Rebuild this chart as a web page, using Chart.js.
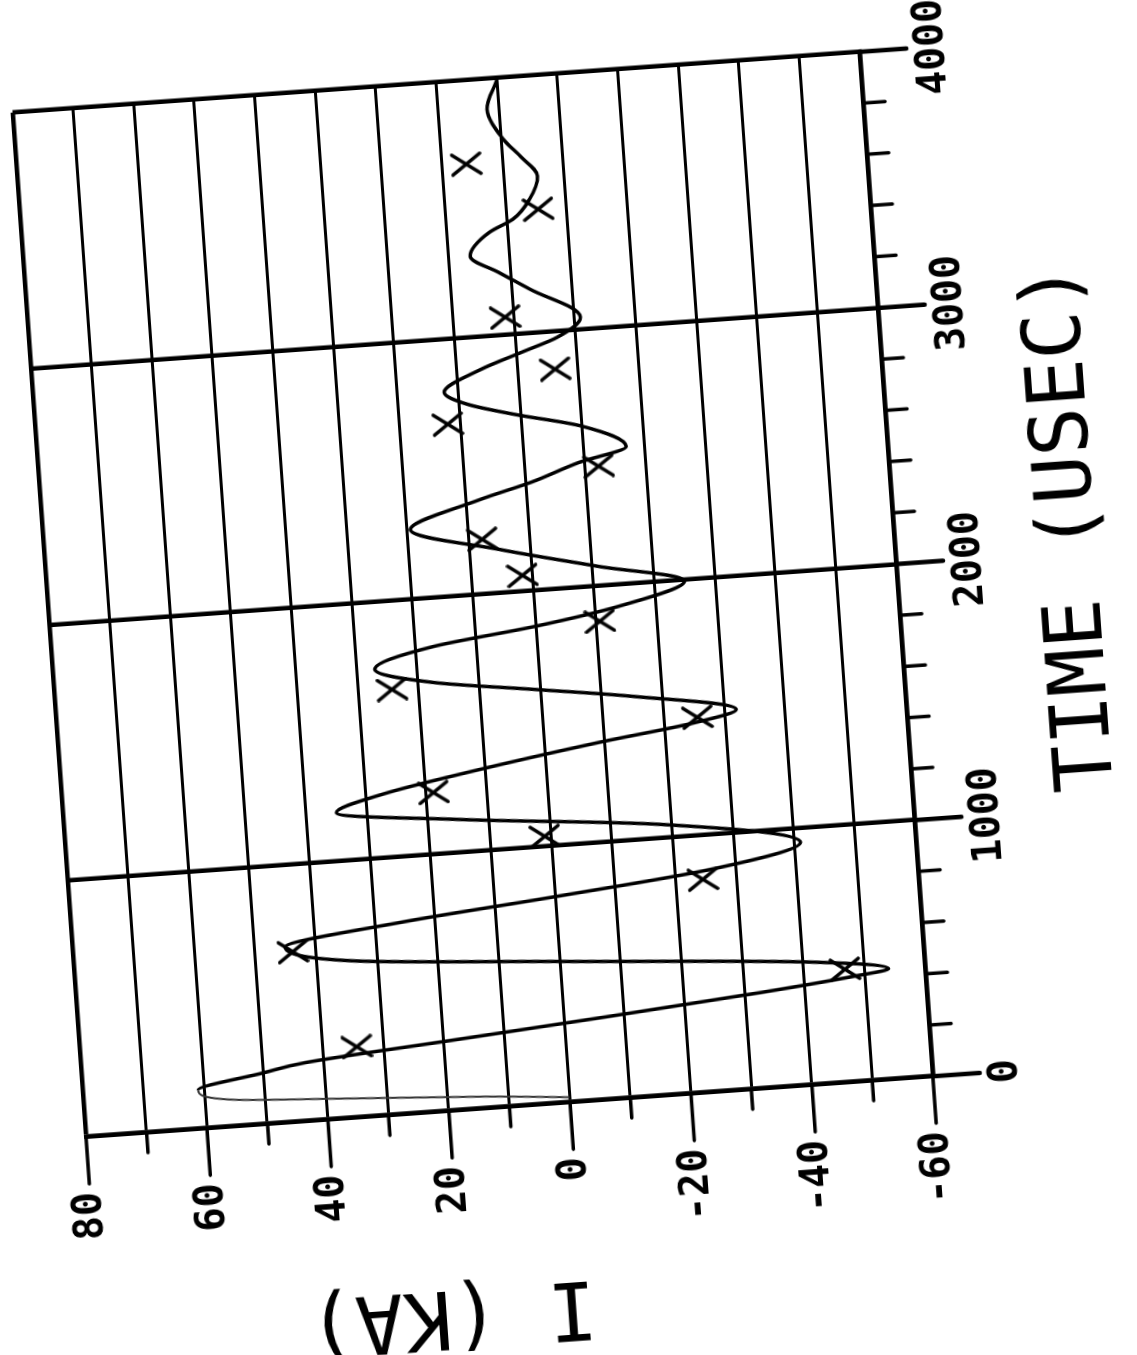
<!DOCTYPE html>
<html>
<head>
<meta charset="utf-8">
<title>I (KA) vs TIME (USEC)</title>
<script src="https://cdn.jsdelivr.net/npm/chart.js@4/dist/chart.umd.min.js"></script>
<style>
  html, body { margin: 0; padding: 0; background: #fff; }
  body { width: 1137px; height: 1355px; overflow: hidden; position: relative; }
  #plot { position: absolute; left: 0; top: 0; }
  #plot canvas { display: block; }
</style>
</head>
<body>
<div id="plot"><canvas id="chart" width="1326" height="1106"></canvas></div>
<script>
// Measured discharge current: the fitted trace and the sampled points (x marks)
const curveTime = [20, 46, 80, 103, 151, 200, 228, 275, 322, 374, 410, 430, 476, 550, 610,
    682, 748, 803, 866, 946, 1055, 1130, 1190, 1250, 1310, 1390, 1440, 1480, 1560, 1614,
    1669, 1736, 1809, 1859, 1914, 1993, 2074, 2167, 2269, 2367, 2420, 2483, 2532, 2623, 2688,
    2740, 2793, 2872, 2928, 2976, 3047, 3170, 3245, 3314, 3402, 3446, 3519, 3607, 3689, 3760,
    3881, 3990];
const curveCurrent = [0, 14, 39, 55, 61, 50, 43, 18, -7, -33, -48, -54, -42, 0, 34,
    45, 25, 0, -26, -41, -18, 15, 35, 27, 13, -9, -25, -32, -15, 1,
    17.5, 27, 17, 0, -14, -25, -11, 5, 19.5, 7.6, -1, -9, -17, -10, 1,
    8.6, 12.3, 6, -1, -7, -11, -3, 2, 6.4, 3, -1, -4, -5.6, -3, -0.4,
    1.9, 0];

const markerTime = [275, 440, 662, 829, 1040, 1241, 1460, 1653, 1860, 2060, 2211, 2463,
    2668, 2852, 3068, 3478, 3673];
const markerCurrent = [34.4, -46.8, 43.8, -24.5, 1, 18.8, -25.5, 24.4, -10.6, 1.6, 7.8,
    -12.2, 12.1, -6.2, 1.4, -5.3, 6.0];

const timeRange = [0, 4000];
const currentRange = [-60, 80];

// The plot is drawn upright and then turned as a whole, like the original plotter sheet
const FRAME_CORNER = { x: 86, y: 1137 };   // where (t=0, I=80) lands on the page
const PLOT_W = 1027;                       // time span of the frame, px
const PLOT_H = 849;                        // current span of the frame, px
const TILT_DEG = -94.1;
const LABEL_FONT = { family: "'DejaVu Sans Mono', monospace", size: 40, weight: 'bold' };
const TITLE_FONT = { family: "'DejaVu Sans Mono', monospace", size: 80, weight: 'normal' };

// x-shaped marker, a bit longer along the current axis
function makeCross(w, h) {
    const c = document.createElement('canvas');
    c.width = w; c.height = h;
    const g = c.getContext('2d');
    g.strokeStyle = '#000';
    g.lineWidth = 3.5;
    g.lineCap = 'round';
    g.beginPath();
    g.moveTo(2, 2); g.lineTo(w - 2, h - 2);
    g.moveTo(w - 2, 2); g.lineTo(2, h - 2);
    g.stroke();
    return c;
}

// Outer tick marks: long on labelled values, short in between
const outerTicks = {
    id: 'outerTicks',
    afterDraw(chart) {
        const { ctx, chartArea, scales } = chart;
        ctx.save();
        ctx.strokeStyle = '#000';
        ctx.lineCap = 'round';
        scales.x.ticks.forEach(t => {
            const major = t.value % 1000 === 0;
            const px = scales.x.getPixelForValue(t.value);
            ctx.lineWidth = major ? 4.5 : 3.5;
            ctx.beginPath();
            ctx.moveTo(px, chartArea.bottom);
            ctx.lineTo(px, chartArea.bottom + (major ? 47 : 22));
            ctx.stroke();
        });
        scales.y.ticks.forEach(t => {
            const major = t.value % 20 === 0;
            const py = scales.y.getPixelForValue(t.value);
            ctx.lineWidth = 3.5;
            ctx.beginPath();
            ctx.moveTo(chartArea.left, py);
            ctx.lineTo(chartArea.left - (major ? 47 : 20), py);
            ctx.stroke();
        });
        ctx.restore();
    }
};

// the very first rise is traced faintly on the original
const faintRise = c => c.p1DataIndex <= 4;

const chart = new Chart(document.getElementById('chart'), {
    type: 'line',
    data: {
        datasets: [{
            label: 'I(t)',
            data: curveTime.map((t, i) => ({ x: t, y: curveCurrent[i] })),
            borderColor: '#000',
            borderWidth: 3.5,
            pointRadius: 0,
            cubicInterpolationMode: 'monotone',
            fill: false,
            segment: {
                borderWidth: c => (faintRise(c) ? 2 : 3.5),
                borderColor: c => (faintRise(c) ? '#333' : '#000')
            }
        }, {
            label: 'measured',
            data: markerTime.map((t, i) => ({ x: t, y: markerCurrent[i] })),
            showLine: false,
            pointStyle: makeCross(24, 32),
            pointRadius: 12,
            borderColor: '#000',
            backgroundColor: '#000'
        }]
    },
    options: {
        responsive: false,
        maintainAspectRatio: false,
        animation: false,
        devicePixelRatio: 1,
        layout: { padding: { left: 0, top: 30, right: 50, bottom: 0 } },
        plugins: {
            legend: { display: false },
            tooltip: { enabled: false }
        },
        scales: {
            x: {
                type: 'linear',
                min: timeRange[0],
                max: timeRange[1],
                afterFit: s => { s.height = 227; },
                ticks: {
                    stepSize: 200,
                    autoSkip: false,
                    maxRotation: 0,
                    padding: 50,
                    color: '#000',
                    font: LABEL_FONT,
                    callback: v => (v % 1000 === 0 ? String(v) : '')
                },
                grid: {
                    drawTicks: false,
                    color: c => (c.tick && c.tick.value % 1000 === 0 ? '#000' : 'rgba(0,0,0,0)'),
                    lineWidth: 4.5
                },
                border: { display: true, color: '#000', width: 4.5 },
                title: {
                    display: true,
                    text: ' TIME (USEC)',
                    color: '#000',
                    font: TITLE_FONT,
                    padding: { top: 0, bottom: 0 }
                }
            },
            y: {
                type: 'linear',
                min: currentRange[0],
                max: currentRange[1],
                afterFit: s => { s.width = 249; },
                ticks: {
                    stepSize: 10,
                    autoSkip: false,
                    padding: 55,
                    color: '#000',
                    font: LABEL_FONT,
                    callback: v => (v % 20 === 0 ? String(v) : '')
                },
                grid: {
                    drawTicks: false,
                    color: '#000',
                    lineWidth: c => (c.tick && (c.tick.value === 80 || c.tick.value === -60) ? 4.5 : 3)
                },
                border: { display: true, color: '#000', width: 4.5 },
                title: {
                    display: true,
                    text: '   I (KA)',
                    color: '#000',
                    font: TITLE_FONT,
                    padding: { top: 0, bottom: 0 }
                }
            }
        }
    },
    plugins: [outerTicks]
});

// grow the canvas until the frame has the wanted size (layout eats some padding)
for (let k = 0; k < 2; k++) {
    const a = chart.chartArea;
    const dw = PLOT_W - (a.right - a.left);
    const dh = PLOT_H - (a.bottom - a.top);
    if (Math.abs(dw) < 0.5 && Math.abs(dh) < 0.5) break;
    chart.resize(chart.width + dw, chart.height + dh);
}

// turn the finished plot so its (t=0, I=80) corner sits on the page position
const area = chart.chartArea;
const wrap = document.getElementById('plot');
wrap.style.left = (FRAME_CORNER.x - area.left) + 'px';
wrap.style.top = (FRAME_CORNER.y - area.top) + 'px';
wrap.style.transformOrigin = area.left + 'px ' + area.top + 'px';
wrap.style.transform = 'rotate(' + TILT_DEG + 'deg)';
</script>
</body>
</html>
